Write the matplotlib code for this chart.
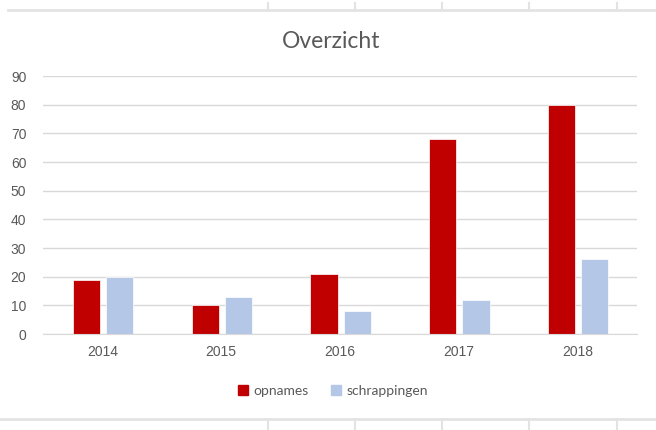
import matplotlib
matplotlib.use('Agg')
import matplotlib.pyplot as plt
from matplotlib.lines import Line2D
from matplotlib.patches import Patch
import numpy as np

# data
years = ['2014', '2015', '2016', '2017', '2018']
opnames = [19, 10, 21, 68, 80]
schrappingen = [20, 13, 8, 12, 26]

W, H = 656, 430
RED = '#C00000'
BLUE = '#B4C7E7'
TEXT = '#595959'
GRID = '#D9D9D9'

fig = plt.figure(figsize=(W / 100, H / 100), dpi=100)

# spreadsheet cell lines around the chart
def px_line(x0, y0, x1, y1, lw=1.5):
	fig.add_artist(Line2D([x0 / W, x1 / W], [1 - y0 / H, 1 - y1 / H],
		color='#E3E3E3', lw=lw, transform=fig.transFigure))

px_line(8, 9.5, 656, 9.5, lw=2)
px_line(0, 418.5, 656, 418.5, lw=2)
for x in [268, 355, 442, 529, 617]:
	px_line(x, 3, x, 9.5)
	px_line(x, 418.5, x, 430)

ax = fig.add_axes([43 / W, 1 - 334 / H, (637 - 43) / W, (334 - 76) / H])
x = np.arange(len(years))
bw = 0.23
ax.bar(x - 0.135, opnames, bw, color=RED, edgecolor='white', linewidth=0.5, zorder=3)
ax.bar(x + 0.145, schrappingen, bw, color=BLUE, edgecolor='white', linewidth=0.5, zorder=3)

ax.set_xlim(-0.5, len(years) - 0.5)
ax.set_ylim(0, 90)
ax.set_yticks(range(0, 91, 10))
ax.set_xticks(x)
ax.set_xticklabels(years)
ax.tick_params(length=0, labelcolor=TEXT, labelsize=10)
ax.tick_params(axis='y', pad=12)
ax.tick_params(axis='x', pad=8)
for lab in ax.get_xticklabels() + ax.get_yticklabels():
	lab.set_fontfamily('Liberation Sans')
ax.grid(axis='y', color=GRID, lw=1, zorder=0)
for s in ['top', 'right', 'left']:
	ax.spines[s].set_visible(False)
ax.spines['bottom'].set_color(GRID)
ax.spines['bottom'].set_zorder(4)

fig.text(331 / W, 1 - 41 / H, 'Overzicht', ha='center', va='center',
	fontsize=16.5, color=TEXT, family='Lato')

handles = [Patch(color=RED, label='opnames'), Patch(color=BLUE, label='schrappingen')]
fig.legend(handles=handles, loc='center', bbox_to_anchor=(333 / W, 1 - 391 / H),
	ncol=2, frameon=False, prop={'family': 'Lato', 'size': 10}, labelcolor=TEXT,
	handlelength=0.7, handleheight=0.7, handletextpad=0.4, columnspacing=1.6)

fig.savefig('out.png', dpi=100)
